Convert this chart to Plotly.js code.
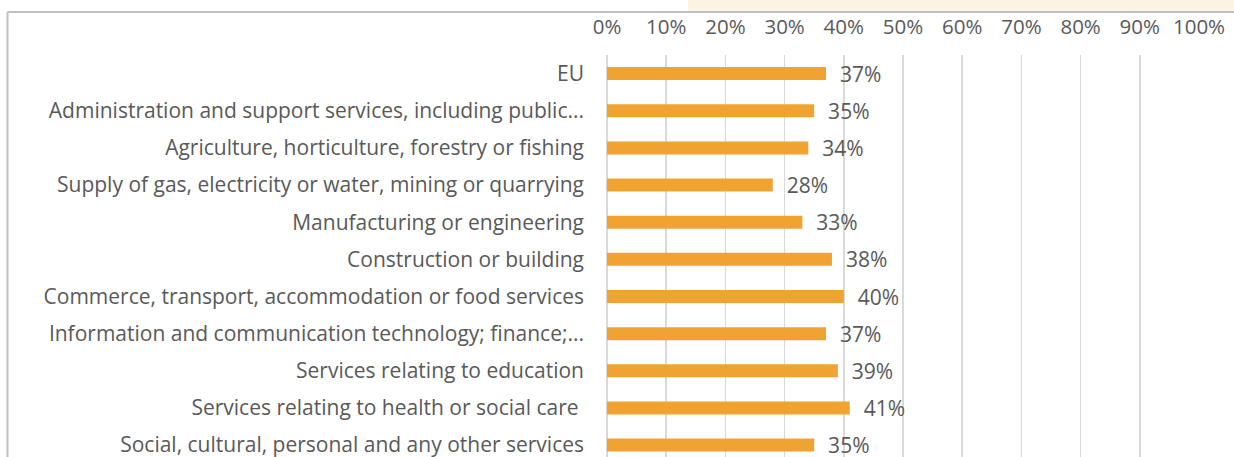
<!DOCTYPE html>
<html>
<head>
<meta charset="utf-8">
<script src="https://cdn.plot.ly/plotly-3.0.1.min.js"></script>
<style>
html,body{margin:0;padding:0;background:#fff;}
#chart{width:1234px;height:457px;}
</style>
</head>
<body>
<div id="chart"></div>
<script>
const categories = [
  "EU",
  "Administration and support services, including public...",
  "Agriculture, horticulture, forestry or fishing",
  "Supply of gas, electricity or water, mining or quarrying",
  "Manufacturing or engineering",
  "Construction or building",
  "Commerce, transport, accommodation or food services",
  "Information and communication technology; finance;...",
  "Services relating to education",
  "Services relating to health or social care ",
  "Social, cultural, personal and any other services"
];
const values = [0.37, 0.35, 0.34, 0.28, 0.33, 0.38, 0.40, 0.37, 0.39, 0.41, 0.35];
const xTicks = [0, 0.1, 0.2, 0.3, 0.4, 0.5, 0.6, 0.7, 0.8, 0.9, 1.0];

const W = 1234, H = 457;
const M = {l: 607, r: 35, t: 55, b: 0};
const pw = W - M.l - M.r, ph = H - M.t - M.b;
const px = x => (x - M.l) / pw;
const py = y => 1 - (y - M.t) / ph;

const textColor = '#595959';
const font = 'Open Sans, sans-serif';

const trace = {
  type: 'bar',
  orientation: 'h',
  x: values,
  y: categories,
  marker: {color: '#F0A330', line: {width: 0}},
  texttemplate: '\u00a0\u00a0%{x:.0%}',
  textposition: 'outside',
  constraintext: 'none',
  cliponaxis: false,
  textfont: {family: font, size: 21, color: textColor},
  outsidetextfont: {family: font, size: 21, color: textColor},
  hoverinfo: 'skip'
};

const layout = {
  width: W, height: H,
  margin: M,
  paper_bgcolor: '#ffffff',
  plot_bgcolor: 'rgba(0,0,0,0)',
  showlegend: false,
  bargap: 0.65,
  font: {family: font, color: textColor},
  uniformtext: {mode: false},
  xaxis: {
    side: 'top',
    range: [0, 1],
    tickvals: xTicks,
    tickformat: '.0%',
    showgrid: true,
    gridcolor: '#d9d9d9',
    gridwidth: 1.5,
    zeroline: true,
    zerolinecolor: '#d9d9d9',
    zerolinewidth: 1.5,
    showline: false,
    ticks: '',
    ticklabelstandoff: 16,
    tickfont: {family: font, size: 20.5, color: textColor},
    fixedrange: true
  },
  yaxis: {
    type: 'category',
    categoryorder: 'array',
    categoryarray: categories,
    range: [10.32, -0.5],
    showgrid: false,
    zeroline: false,
    showline: false,
    ticks: '',
    ticklabelstandoff: 22,
    tickfont: {family: font, size: 21, color: textColor},
    fixedrange: true
  },
  shapes: [
    {type: 'rect', xref: 'paper', yref: 'paper', x0: px(688), x1: px(1240), y0: py(11), y1: py(-5),
     fillcolor: '#fcf3e3', line: {width: 0}, layer: 'below'},
    {type: 'line', xref: 'paper', yref: 'paper', x0: px(7.5), x1: px(1240), y0: py(12), y1: py(12),
     line: {color: '#bfbfbf', width: 2}},
    {type: 'line', xref: 'paper', yref: 'paper', x0: px(7.5), x1: px(7.5), y0: py(12), y1: py(470),
     line: {color: '#bfbfbf', width: 2}}
  ]
};

Plotly.newPlot('chart', [trace], layout, {displayModeBar: false, staticPlot: true});
</script>
</body>
</html>
